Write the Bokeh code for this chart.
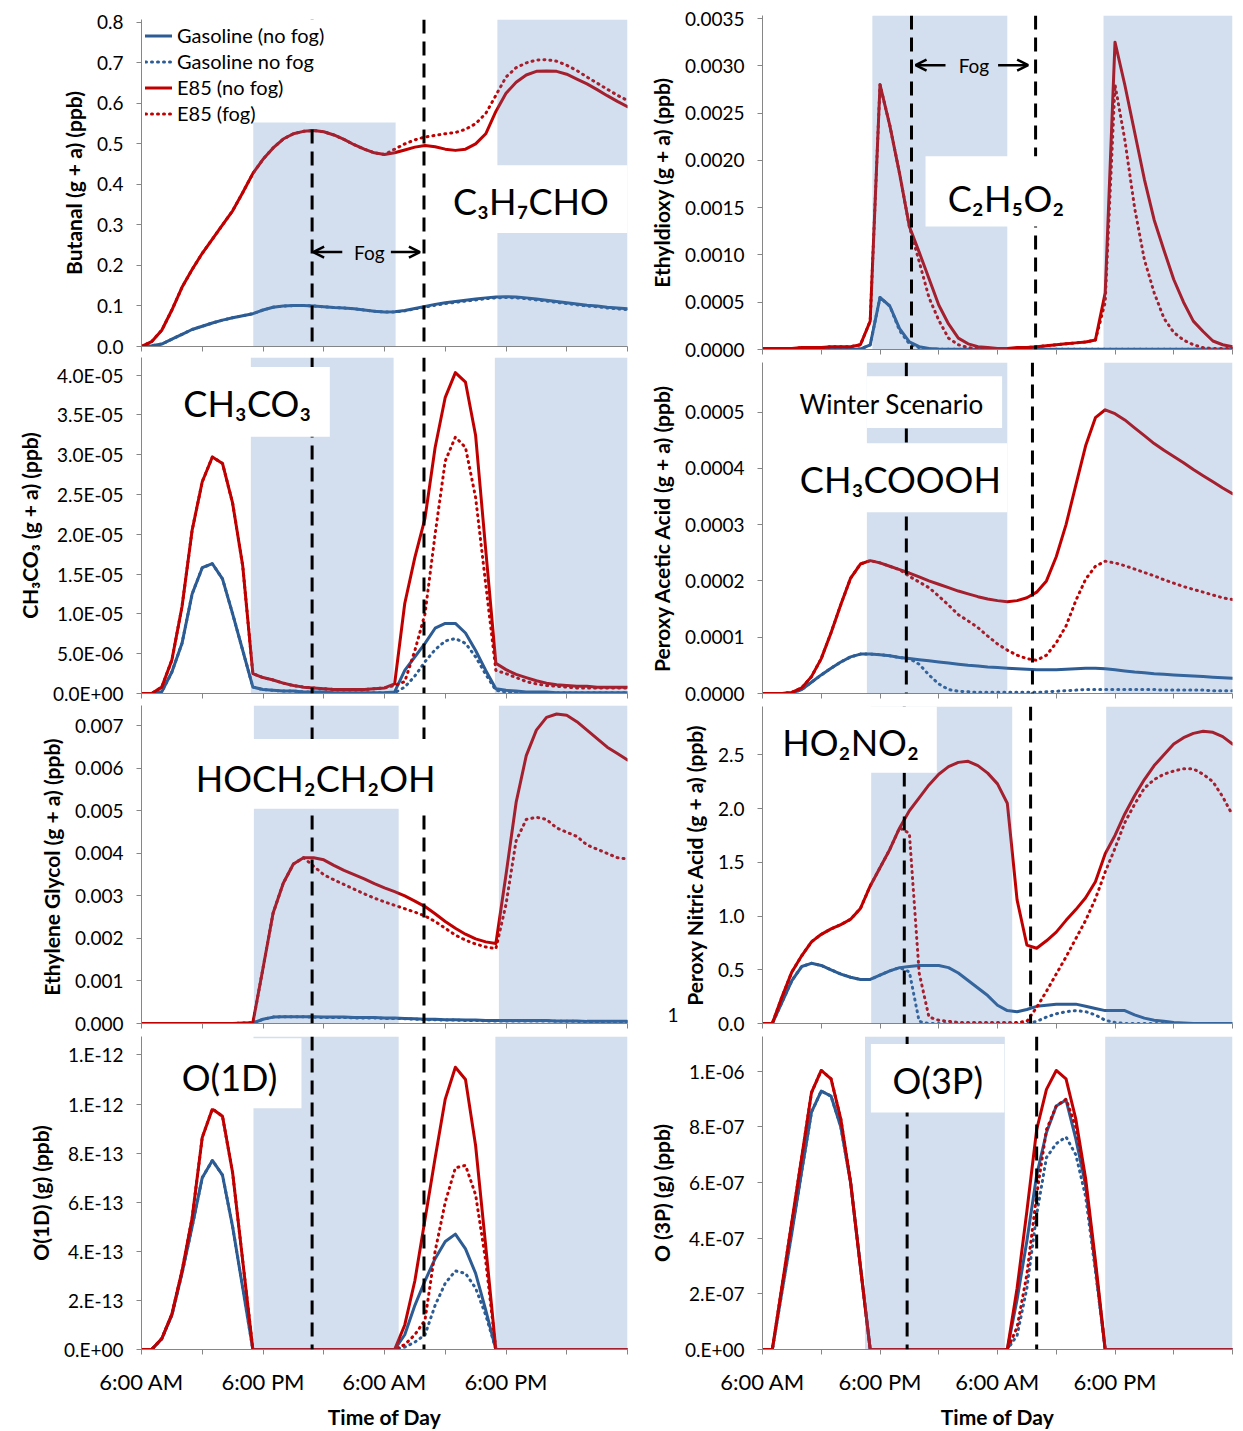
from bokeh.plotting import figure
from bokeh.layouts import row, column
from bokeh.models import (Range1d, FixedTicker, BoxAnnotation, Span, Label,
                          Arrow, OpenHead, Legend, LegendItem, LinearAxis)
from bokeh.embed import file_html
from bokeh.resources import INLINE

# ---------------- data (hours after 6:00 AM of day 1) ----------------
hours = list(range(49))

x_ticks = [0, 6, 12, 18, 24, 30, 36, 42, 48]
x_tick_labels = ["6:00 AM", "", "6:00 PM", "", "6:00 AM", "", "6:00 PM", "", ""]

series_names = ["Gasoline (no fog)", "Gasoline no fog", "E85 (no fog)", "E85 (fog)"]

# Butanal
butanal_gas = [0.0, 0.002, 0.006, 0.018, 0.03, 0.042, 0.05, 0.058, 0.065, 0.071,
               0.076, 0.081, 0.09, 0.097, 0.1, 0.101, 0.101, 0.1, 0.098, 0.096,
               0.095, 0.093, 0.09, 0.087, 0.085, 0.086, 0.089, 0.094, 0.099, 0.104,
               0.108, 0.111, 0.114, 0.117, 0.12, 0.122, 0.123, 0.122, 0.12, 0.117,
               0.114, 0.111, 0.108, 0.105, 0.102, 0.1, 0.097, 0.095, 0.093]
butanal_gas_fog = [0.0, 0.002, 0.006, 0.018, 0.03, 0.042, 0.05, 0.058, 0.065, 0.071,
                   0.076, 0.081, 0.09, 0.097, 0.1, 0.101, 0.101, 0.1, 0.098, 0.096,
                   0.095, 0.093, 0.09, 0.087, 0.085, 0.085, 0.088, 0.093, 0.097, 0.102,
                   0.106, 0.109, 0.112, 0.115, 0.118, 0.12, 0.121, 0.12, 0.118, 0.115,
                   0.112, 0.109, 0.106, 0.103, 0.1, 0.098, 0.095, 0.093, 0.091]
butanal_e85 = [0.0, 0.012, 0.04, 0.09, 0.146, 0.19, 0.23, 0.265, 0.3, 0.335,
               0.38, 0.427, 0.462, 0.49, 0.512, 0.525, 0.531, 0.533, 0.53, 0.522,
               0.511, 0.498, 0.487, 0.478, 0.474, 0.478, 0.485, 0.492, 0.496, 0.493,
               0.487, 0.484, 0.487, 0.5, 0.525, 0.58, 0.625, 0.652, 0.67, 0.679,
               0.68, 0.679, 0.672, 0.66, 0.648, 0.634, 0.619, 0.605, 0.592]
butanal_e85_fog = [0.0, 0.012, 0.04, 0.09, 0.146, 0.19, 0.23, 0.265, 0.3, 0.335,
                   0.38, 0.427, 0.462, 0.49, 0.512, 0.525, 0.531, 0.533, 0.53, 0.522,
                   0.511, 0.498, 0.487, 0.478, 0.474, 0.487, 0.5, 0.51, 0.517, 0.521,
                   0.525, 0.528, 0.536, 0.55, 0.575, 0.62, 0.665, 0.688, 0.7, 0.707,
                   0.708, 0.704, 0.694, 0.681, 0.665, 0.65, 0.635, 0.62, 0.607]
butanal_ticks = [0.0, 0.1, 0.2, 0.3, 0.4, 0.5, 0.6, 0.7, 0.8]
butanal_tick_labels = ["0.0", "0.1", "0.2", "0.3", "0.4", "0.5", "0.6", "0.7", "0.8"]

# CH3CO3
ch3co3_gas = [0.0, 0.0, 0.02e-5, 0.27e-5, 0.63e-5, 1.25e-5, 1.58e-5, 1.63e-5, 1.44e-5, 1.0e-5,
              0.54e-5, 0.08e-5, 0.05e-5, 0.04e-5, 0.03e-5, 0.03e-5, 0.02e-5, 0.02e-5, 0.02e-5, 0.01e-5,
              0.01e-5, 0.01e-5, 0.01e-5, 0.01e-5, 0.01e-5, 0.02e-5, 0.29e-5, 0.46e-5, 0.63e-5, 0.82e-5,
              0.88e-5, 0.88e-5, 0.76e-5, 0.54e-5, 0.29e-5, 0.06e-5, 0.04e-5, 0.03e-5, 0.02e-5, 0.02e-5,
              0.02e-5, 0.01e-5, 0.01e-5, 0.01e-5, 0.01e-5, 0.01e-5, 0.01e-5, 0.01e-5, 0.01e-5]
ch3co3_gas_fog = [0.0, 0.0, 0.02e-5, 0.27e-5, 0.63e-5, 1.25e-5, 1.58e-5, 1.63e-5, 1.44e-5, 1.0e-5,
                  0.54e-5, 0.08e-5, 0.05e-5, 0.04e-5, 0.03e-5, 0.03e-5, 0.02e-5, 0.02e-5, 0.02e-5, 0.01e-5,
                  0.01e-5, 0.01e-5, 0.01e-5, 0.01e-5, 0.01e-5, 0.01e-5, 0.08e-5, 0.22e-5, 0.4e-5, 0.55e-5,
                  0.66e-5, 0.69e-5, 0.63e-5, 0.46e-5, 0.24e-5, 0.04e-5, 0.02e-5, 0.01e-5, 0.01e-5, 0.01e-5,
                  0.01e-5, 0.01e-5, 0.01e-5, 0.01e-5, 0.01e-5, 0.01e-5, 0.01e-5, 0.01e-5, 0.01e-5]
ch3co3_e85 = [0.0, 0.0, 0.08e-5, 0.42e-5, 1.09e-5, 2.05e-5, 2.66e-5, 2.97e-5, 2.89e-5, 2.39e-5,
              1.6e-5, 0.25e-5, 0.2e-5, 0.17e-5, 0.13e-5, 0.1e-5, 0.08e-5, 0.07e-5, 0.06e-5, 0.05e-5,
              0.05e-5, 0.05e-5, 0.05e-5, 0.06e-5, 0.07e-5, 0.12e-5, 1.13e-5, 1.71e-5, 2.2e-5, 3.09e-5,
              3.72e-5, 4.03e-5, 3.91e-5, 3.24e-5, 1.8e-5, 0.38e-5, 0.3e-5, 0.24e-5, 0.2e-5, 0.16e-5,
              0.13e-5, 0.11e-5, 0.1e-5, 0.09e-5, 0.09e-5, 0.08e-5, 0.08e-5, 0.08e-5, 0.08e-5]
ch3co3_e85_fog = [0.0, 0.0, 0.08e-5, 0.42e-5, 1.09e-5, 2.05e-5, 2.66e-5, 2.97e-5, 2.89e-5, 2.39e-5,
                  1.6e-5, 0.25e-5, 0.2e-5, 0.17e-5, 0.13e-5, 0.1e-5, 0.08e-5, 0.07e-5, 0.06e-5, 0.05e-5,
                  0.05e-5, 0.05e-5, 0.05e-5, 0.06e-5, 0.07e-5, 0.1e-5, 0.15e-5, 0.54e-5, 1.0e-5, 2.0e-5,
                  2.92e-5, 3.22e-5, 3.09e-5, 2.46e-5, 1.37e-5, 0.29e-5, 0.25e-5, 0.2e-5, 0.15e-5, 0.12e-5,
                  0.1e-5, 0.09e-5, 0.08e-5, 0.07e-5, 0.07e-5, 0.07e-5, 0.07e-5, 0.07e-5, 0.07e-5]
ch3co3_ticks = [0.0, 5e-06, 1e-05, 1.5e-05, 2e-05, 2.5e-05, 3e-05, 3.5e-05, 4e-05]
ch3co3_tick_labels = ["0.0E+00", "5.0E-06", "1.0E-05", "1.5E-05", "2.0E-05",
                      "2.5E-05", "3.0E-05", "3.5E-05", "4.0E-05"]

# Ethylene glycol
glycol_gas = [0, 0, 0, 0, 0, 0, 0, 0, 0, 0,
              0, 0.00001, 0.0001, 0.00015, 0.00016, 0.00016, 0.00016, 0.00016, 0.00015, 0.00015,
              0.00015, 0.00014, 0.00014, 0.00014, 0.00013, 0.00013, 0.00012, 0.00011, 0.0001, 0.0001,
              0.00009, 0.00009, 0.00008, 0.00008, 0.00007, 0.00007, 0.00007, 0.00007, 0.00007, 0.00007,
              0.00007, 0.00006, 0.00006, 0.00006, 0.00005, 0.00005, 0.00005, 0.00005, 0.00005]
glycol_gas_fog = [0, 0, 0, 0, 0, 0, 0, 0, 0, 0,
                  0, 0.00001, 0.0001, 0.00015, 0.00016, 0.00016, 0.00016, 0.00015, 0.00014, 0.00014,
                  0.00014, 0.00013, 0.00013, 0.00013, 0.00012, 0.00012, 0.00011, 0.0001, 0.00009, 0.00009,
                  0.00008, 0.00008, 0.00007, 0.00007, 0.00006, 0.00006, 0.00006, 0.00006, 0.00006, 0.00006,
                  0.00006, 0.00005, 0.00005, 0.00005, 0.00004, 0.00004, 0.00004, 0.00004, 0.00004]
glycol_e85 = [0, 0, 0, 0, 0, 0, 0, 0, 0, 0,
              0.00001, 0.00002, 0.0013, 0.0026, 0.0033, 0.00375, 0.0039, 0.0039, 0.00385, 0.00372,
              0.0036, 0.0035, 0.0034, 0.00329, 0.00319, 0.0031, 0.003, 0.00288, 0.00275, 0.00258,
              0.0024, 0.00224, 0.0021, 0.00199, 0.00192, 0.00188, 0.0035, 0.0052, 0.0063, 0.0069,
              0.0072, 0.00728, 0.00725, 0.0071, 0.0069, 0.0067, 0.0065, 0.00635, 0.0062]
glycol_e85_fog = [0, 0, 0, 0, 0, 0, 0, 0, 0, 0,
                  0.00001, 0.00002, 0.0013, 0.0026, 0.0033, 0.00375, 0.0039, 0.0037, 0.0035, 0.00338,
                  0.00327, 0.00316, 0.00305, 0.00295, 0.00286, 0.00278, 0.0027, 0.00262, 0.00253, 0.0024,
                  0.00224, 0.00208, 0.00196, 0.00187, 0.0018, 0.00176, 0.0028, 0.0043, 0.0048, 0.00485,
                  0.0048, 0.0046, 0.0045, 0.0044, 0.0042, 0.0041, 0.004, 0.0039, 0.00387]
glycol_ticks = [0.0, 0.001, 0.002, 0.003, 0.004, 0.005, 0.006, 0.007]
glycol_tick_labels = ["0.000", "0.001", "0.002", "0.003", "0.004", "0.005", "0.006", "0.007"]

# O(1D)
o1d_gas = [0, 0, 0.044e-12, 0.14e-12, 0.31e-12, 0.5e-12, 0.7e-12, 0.77e-12, 0.71e-12, 0.5e-12,
           0.25e-12, 0, 0, 0, 0, 0, 0, 0, 0, 0,
           0, 0, 0, 0, 0, 0, 0.06e-12, 0.18e-12, 0.28e-12, 0.37e-12,
           0.44e-12, 0.47e-12, 0.41e-12, 0.31e-12, 0.16e-12, 0, 0, 0, 0, 0,
           0, 0, 0, 0, 0, 0, 0, 0, 0]
o1d_gas_fog = [0, 0, 0.044e-12, 0.14e-12, 0.31e-12, 0.5e-12, 0.7e-12, 0.77e-12, 0.71e-12, 0.5e-12,
               0.25e-12, 0, 0, 0, 0, 0, 0, 0, 0, 0,
               0, 0, 0, 0, 0, 0, 0.01e-12, 0.03e-12, 0.06e-12, 0.18e-12,
               0.27e-12, 0.32e-12, 0.31e-12, 0.25e-12, 0.14e-12, 0, 0, 0, 0, 0,
               0, 0, 0, 0, 0, 0, 0, 0, 0]
o1d_e85 = [0, 0, 0.044e-12, 0.144e-12, 0.32e-12, 0.536e-12, 0.864e-12, 0.98e-12, 0.95e-12, 0.72e-12,
           0.36e-12, 0, 0, 0, 0, 0, 0, 0, 0, 0,
           0, 0, 0, 0, 0, 0, 0.1e-12, 0.28e-12, 0.53e-12, 0.78e-12,
           1.02e-12, 1.15e-12, 1.1e-12, 0.83e-12, 0.42e-12, 0, 0, 0, 0, 0,
           0, 0, 0, 0, 0, 0, 0, 0, 0]
o1d_e85_fog = [0, 0, 0.044e-12, 0.144e-12, 0.32e-12, 0.536e-12, 0.864e-12, 0.98e-12, 0.95e-12, 0.72e-12,
               0.36e-12, 0, 0, 0, 0, 0, 0, 0, 0, 0,
               0, 0, 0, 0, 0, 0, 0.02e-12, 0.06e-12, 0.12e-12, 0.4e-12,
               0.6e-12, 0.74e-12, 0.75e-12, 0.63e-12, 0.36e-12, 0, 0, 0, 0, 0,
               0, 0, 0, 0, 0, 0, 0, 0, 0]
o1d_ticks = [0.0, 2e-13, 4e-13, 6e-13, 8e-13, 1e-12, 1.2e-12]
o1d_tick_labels = ["0.E+00", "2.E-13", "4.E-13", "6.E-13", "8.E-13", "1.E-12", "1.E-12"]

# Ethyldioxy C2H5O2
ethyl_gas = [0, 0, 0, 0, 0, 0, 0, 0, 0, 0,
             0.000005, 0.00005, 0.00055, 0.00046, 0.00022, 0.00008, 0.00003, 0.00001, 0.000005, 0.000003,
             0.000003, 0.000003, 0.000003, 0.000003, 0.000003, 0.000003, 0.000003, 0.000003, 0.000003, 0.000003,
             0.000003, 0.000003, 0.000003, 0.000003, 0.000003, 0.000003, 0.000003, 0.000003, 0.000003, 0.000003,
             0.000003, 0.000003, 0.000003, 0.000003, 0.000003, 0.000003, 0.000003, 0.000003, 0.000003]
ethyl_gas_fog = [0, 0, 0, 0, 0, 0, 0, 0, 0, 0,
                 0.000005, 0.00005, 0.00055, 0.00046, 0.0002, 0.00006, 0.00002, 0.000005, 0.000003, 0.000003,
                 0.000003, 0.000003, 0.000003, 0.000003, 0.000003, 0.000003, 0.000003, 0.000003, 0.000003, 0.000003,
                 0.000003, 0.000003, 0.000003, 0.000003, 0.000003, 0.000003, 0.000003, 0.000003, 0.000003, 0.000003,
                 0.000003, 0.000003, 0.000003, 0.000003, 0.000003, 0.000003, 0.000003, 0.000003, 0.000003]
ethyl_e85 = [0.00001, 0.00001, 0.00001, 0.00001, 0.00002, 0.00002, 0.00002, 0.00003, 0.00003, 0.00003,
             0.00005, 0.0003, 0.0028, 0.00237, 0.00186, 0.0013, 0.00103, 0.00075, 0.00047, 0.00027,
             0.00012, 0.00006, 0.00003, 0.00002, 0.00001, 0.00001, 0.00002, 0.00002, 0.00003, 0.00004,
             0.00005, 0.00006, 0.00007, 0.00008, 0.0001, 0.0006, 0.00325, 0.0028, 0.0023, 0.0018,
             0.00137, 0.00105, 0.00074, 0.0005, 0.0003, 0.00019, 0.00009, 0.00005, 0.00003]
ethyl_e85_fog = [0.00001, 0.00001, 0.00001, 0.00001, 0.00002, 0.00002, 0.00002, 0.00003, 0.00003, 0.00003,
                 0.00005, 0.0003, 0.0028, 0.00237, 0.00186, 0.0013, 0.00093, 0.00055, 0.00031, 0.00012,
                 0.00005, 0.00002, 0.00001, 0.00001, 0.00001, 0.00001, 0.00001, 0.00002, 0.00003, 0.00004,
                 0.00005, 0.00006, 0.00007, 0.00008, 0.0001, 0.0005, 0.0028, 0.00222, 0.0015, 0.00095,
                 0.0006, 0.00033, 0.00018, 0.0001, 0.00005, 0.00002, 0.00001, 0.00001, 0.00001]
ethyl_ticks = [0.0, 0.0005, 0.001, 0.0015, 0.002, 0.0025, 0.003, 0.0035]
ethyl_tick_labels = ["0.0000", "0.0005", "0.0010", "0.0015", "0.0020", "0.0025", "0.0030", "0.0035"]

# Peroxy acetic acid CH3COOOH
paa_gas = [0, 0, 0, 0.000001, 0.000007, 0.00002, 0.000033, 0.000045, 0.000056, 0.000065,
           0.00007, 0.00007, 0.000069, 0.000067, 0.000064, 0.000062, 0.00006, 0.000058, 0.000056, 0.000054,
           0.000052, 0.00005, 0.000049, 0.000047, 0.000046, 0.000045, 0.000044, 0.000043, 0.000042, 0.000042,
           0.000042, 0.000043, 0.000044, 0.000045, 0.000045, 0.000044, 0.000042, 0.00004, 0.000038, 0.000037,
           0.000035, 0.000034, 0.000033, 0.000032, 0.000031, 0.00003, 0.000029, 0.000028, 0.000027]
paa_gas_fog = [0, 0, 0, 0.000001, 0.000007, 0.00002, 0.000033, 0.000045, 0.000056, 0.000065,
               0.00007, 0.00007, 0.000069, 0.000067, 0.000064, 0.000062, 0.000052, 0.000033, 0.000017, 0.000007,
               0.000004, 0.000003, 0.000002, 0.000002, 0.000002, 0.000002, 0.000002, 0.000002, 0.000002, 0.000003,
               0.000004, 0.000005, 0.000006, 0.000007, 0.000007, 0.000007, 0.000007, 0.000007, 0.000007, 0.000007,
               0.000007, 0.000006, 0.000006, 0.000006, 0.000006, 0.000006, 0.000005, 0.000005, 0.000005]
paa_e85 = [0, 0, 0, 0.000002, 0.00001, 0.00003, 0.000062, 0.000108, 0.000158, 0.000205,
           0.00023, 0.000236, 0.000232, 0.000226, 0.00022, 0.000214, 0.000207, 0.0002, 0.000194, 0.000188,
           0.000182, 0.000177, 0.000172, 0.000168, 0.000165, 0.000163, 0.000165, 0.00017, 0.00018, 0.0002,
           0.000243, 0.0003, 0.00037, 0.00044, 0.00049, 0.000504, 0.000497, 0.000486, 0.000472, 0.000458,
           0.000444, 0.000432, 0.000421, 0.00041, 0.000398, 0.000387, 0.000376, 0.000365, 0.000355]
paa_e85_fog = [0, 0, 0, 0.000002, 0.00001, 0.00003, 0.000062, 0.000108, 0.000158, 0.000205,
               0.00023, 0.000236, 0.000232, 0.000226, 0.00022, 0.000208, 0.000198, 0.000188, 0.000173, 0.000157,
               0.00014, 0.000129, 0.000117, 0.000102, 0.000088, 0.000077, 0.000068, 0.000062, 0.000059, 0.000068,
               0.00009, 0.00012, 0.000165, 0.000203, 0.000226, 0.000235, 0.000232, 0.000227, 0.000221, 0.000215,
               0.000209, 0.000202, 0.000196, 0.00019, 0.000185, 0.00018, 0.000175, 0.00017, 0.000167]
paa_ticks = [0.0, 0.0001, 0.0002, 0.0003, 0.0004, 0.0005]
paa_tick_labels = ["0.0000", "0.0001", "0.0002", "0.0003", "0.0004", "0.0005"]

# Peroxy nitric acid HO2NO2
pna_gas = [0, 0, 0.2, 0.4, 0.53, 0.56, 0.54, 0.5, 0.46, 0.43,
           0.41, 0.41, 0.45, 0.49, 0.52, 0.53, 0.54, 0.54, 0.54, 0.52,
           0.47, 0.4, 0.33, 0.26, 0.17, 0.12, 0.11, 0.13, 0.16, 0.17,
           0.18, 0.18, 0.18, 0.16, 0.14, 0.12, 0.12, 0.12, 0.08, 0.05,
           0.03, 0.02, 0.01, 0.005, 0, 0, 0, 0, 0]
pna_gas_fog = [0, 0, 0.2, 0.4, 0.53, 0.56, 0.54, 0.5, 0.46, 0.43,
               0.41, 0.41, 0.45, 0.49, 0.52, 0.48, 0.02, 0, 0, 0,
               0, 0, 0, 0, 0, 0, 0, 0, 0.02, 0.06,
               0.09, 0.11, 0.12, 0.11, 0.08, 0.03, 0.01, 0, 0, 0,
               0, 0, 0, 0, 0, 0, 0, 0, 0]
pna_e85 = [0, 0, 0.25, 0.48, 0.63, 0.76, 0.83, 0.88, 0.92, 0.97,
           1.07, 1.28, 1.45, 1.62, 1.82, 1.98, 2.1, 2.22, 2.32, 2.39,
           2.43, 2.44, 2.4, 2.33, 2.23, 2.05, 1.15, 0.73, 0.7, 0.77,
           0.85, 0.96, 1.06, 1.17, 1.32, 1.58, 1.75, 1.95, 2.12, 2.27,
           2.4, 2.5, 2.6, 2.66, 2.7, 2.72, 2.71, 2.67, 2.6]
pna_e85_fog = [0, 0, 0.25, 0.48, 0.63, 0.76, 0.83, 0.88, 0.92, 0.97,
               1.07, 1.28, 1.45, 1.62, 1.82, 1.77, 0.47, 0.06, 0.03, 0.02,
               0.01, 0.01, 0.01, 0.01, 0.01, 0.01, 0.01, 0.02, 0.15, 0.3,
               0.46, 0.62, 0.79, 0.96, 1.16, 1.41, 1.63, 1.87, 2.04, 2.19,
               2.27, 2.32, 2.35, 2.37, 2.37, 2.32, 2.25, 2.11, 1.94]
pna_ticks = [0.0, 0.5, 1.0, 1.5, 2.0, 2.5]
pna_tick_labels = ["0.0", "0.5", "1.0", "1.5", "2.0", "2.5"]

# O(3P)
o3p_gas = [0, 0, 0.21e-6, 0.42e-6, 0.64e-6, 0.853e-6, 0.929e-6, 0.911e-6, 0.8e-6, 0.6e-6,
           0.3e-6, 0, 0, 0, 0, 0, 0, 0, 0, 0,
           0, 0, 0, 0, 0, 0, 0.18e-6, 0.39e-6, 0.627e-6, 0.78e-6,
           0.875e-6, 0.897e-6, 0.757e-6, 0.59e-6, 0.3e-6, 0, 0, 0, 0, 0,
           0, 0, 0, 0, 0, 0, 0, 0, 0]
o3p_gas_fog = [0, 0, 0.21e-6, 0.42e-6, 0.64e-6, 0.853e-6, 0.929e-6, 0.911e-6, 0.8e-6, 0.6e-6,
               0.3e-6, 0, 0, 0, 0, 0, 0, 0, 0, 0,
               0, 0, 0, 0, 0, 0, 0.05e-6, 0.22e-6, 0.485e-6, 0.69e-6,
               0.74e-6, 0.764e-6, 0.7e-6, 0.55e-6, 0.28e-6, 0, 0, 0, 0, 0,
               0, 0, 0, 0, 0, 0, 0, 0, 0]
o3p_e85 = [0, 0, 0.23e-6, 0.46e-6, 0.69e-6, 0.923e-6, 1.003e-6, 0.973e-6, 0.828e-6, 0.6e-6,
           0.296e-6, 0, 0, 0, 0, 0, 0, 0, 0, 0,
           0, 0, 0, 0, 0, 0, 0.22e-6, 0.497e-6, 0.79e-6, 0.935e-6,
           1.003e-6, 0.973e-6, 0.828e-6, 0.615e-6, 0.32e-6, 0, 0, 0, 0, 0,
           0, 0, 0, 0, 0, 0, 0, 0, 0]
o3p_e85_fog = [0, 0, 0.23e-6, 0.46e-6, 0.69e-6, 0.923e-6, 1.003e-6, 0.973e-6, 0.828e-6, 0.6e-6,
               0.296e-6, 0, 0, 0, 0, 0, 0, 0, 0, 0,
               0, 0, 0, 0, 0, 0, 0.08e-6, 0.27e-6, 0.556e-6, 0.79e-6,
               0.875e-6, 0.9e-6, 0.8e-6, 0.6e-6, 0.3e-6, 0, 0, 0, 0, 0,
               0, 0, 0, 0, 0, 0, 0, 0, 0]
o3p_ticks = [0.0, 2e-07, 4e-07, 6e-07, 8e-07, 1e-06]
o3p_tick_labels = ["0.E+00", "2.E-07", "4.E-07", "6.E-07", "8.E-07", "1.E-06"]

# ---------------- styling ----------------
FONT = "Lato"
BLUE = "#2C5C93"
RED = "#C00000"
SHADE = "#4F81BD"
AXIS_GREY = "#868686"
LINE_STYLES = [(BLUE, "solid"), (BLUE, "1 5"), (RED, "solid"), (RED, "1 5")]

panels = [
    dict(data=[butanal_gas, butanal_gas_fog, butanal_e85, butanal_e85_fog],
         ticks=butanal_ticks, tlabels=butanal_tick_labels, ymax=0.807,
         ylabel="Butanal (g + a) (ppb)", w=640, h=357, borders=(141, 13, 19, 11),
         shades=[(11.04, 25.1, None, 0.553), (35.15, None, None, None)],
         whites=[(30.0, None, 0.28, 0.447), (16.2, 17.6, 0.553, None)],
         texts=[("C\u2083H\u2087CHO", 38.46, 0.36, "36px")],
         spans=[16.85, 27.9], fog=(0.233, 19.83, 16.95, 22.5, 24.63, 27.5),
         legend=True, bottom=False, stray=None),
    dict(data=[ch3co3_gas, ch3co3_gas_fog, ch3co3_e85, ch3co3_e85_fog],
         ticks=ch3co3_ticks, tlabels=ch3co3_tick_labels, ymax=4.22e-5,
         ylabel="CH\u2083CO\u2083 (g + a) (ppb)", w=640, h=348, borders=(141, 13, 0, 12),
         shades=[(10.8, 24.9, None, None), (34.9, None, None, None)],
         whites=[(3.5, 18.6, 3.225e-5, 4.1e-5)],
         texts=[("CH\u2083CO\u2083", 10.45, 3.65e-5, "36px")],
         spans=[16.85, 27.9], fog=None, legend=False, bottom=False, stray=None),
    dict(data=[glycol_gas, glycol_gas_fog, glycol_e85, glycol_e85_fog],
         ticks=glycol_ticks, tlabels=glycol_tick_labels, ymax=0.00748,
         ylabel="Ethylene Glycol  (g + a) (ppb)", w=640, h=331, borders=(141, 13, 0, 13),
         shades=[(11.1, 25.4, None, None), (35.3, None, None, None)],
         whites=[(4.5, 29.6, 0.00505, 0.00669)],
         texts=[("HOCH\u2082CH\u2082OH", 17.2, 0.00578, "36px")],
         spans=[16.85, 27.9], fog=None, legend=False, bottom=False, stray=None),
    dict(data=[o1d_gas, o1d_gas_fog, o1d_e85, o1d_e85_fog],
         ticks=o1d_ticks, tlabels=o1d_tick_labels, ymax=1.275e-12,
         ylabel="O(1D) (g) (ppb)", w=640, h=395, borders=(141, 13, 0, 78),
         shades=[(11.06, 25.4, None, None), (34.95, None, None, None)],
         whites=[(2.9, 15.8, 0.983e-12, 1.268e-12)],
         texts=[("O(1D)", 8.7, 1.109e-12, "36px")],
         spans=[16.85, 27.9], fog=None, legend=False, bottom=True, stray=None),
    dict(data=[ethyl_gas, ethyl_gas_fog, ethyl_e85, ethyl_e85_fog],
         ticks=ethyl_ticks, tlabels=ethyl_tick_labels, ymax=0.003532,
         ylabel="Ethyldioxy (g + a) (ppb)", w=603, h=362, borders=(122, 11, 15, 13),
         shades=[(11.22, 25.0, None, None), (34.83, None, None, None)],
         whites=[(16.65, 31.46, 0.0013, 0.002044)],
         texts=[("C\u2082H\u2085O\u2082", 24.87, 0.001605, "36px")],
         spans=[15.22, 27.89], fog=(0.003006, 18.69, 15.63, 21.59, 24.06, 27.13),
         legend=False, bottom=False, stray=None),
    dict(data=[paa_gas, paa_gas_fog, paa_e85, paa_e85_fog],
         ticks=paa_ticks, tlabels=paa_tick_labels, ymax=0.000588,
         ylabel="Peroxy Acetic Acid (g + a) (ppb)", w=603, h=344, borders=(122, 1, 0, 13),
         shades=[(10.66, 25.0, None, None), (34.9, None, None, None)],
         whites=[(10.66, 24.47, 0.0004718, 0.0005636), (3.4, 25.0, 0.000322, 0.0004446)],
         texts=[("Winter Scenario", 13.18, 0.000515, "26px"),
                ("CH\u2083COOOH", 14.08, 0.0003806, "36px")],
         spans=[14.69, 27.57], fog=None, legend=False, bottom=False, stray=None),
    dict(data=[pna_gas, pna_gas_fog, pna_e85, pna_e85_fog],
         ticks=pna_ticks, tlabels=pna_tick_labels, ymax=2.95,
         ylabel="Peroxy Nitric Acid (g + a) (ppb)", w=603, h=330, borders=(122, 0, 0, 13),
         shades=[(11.1, 25.5, None, None), (35.1, None, None, None)],
         whites=[(1.0, 17.8, 2.333, None)],
         texts=[("HO\u2082NO\u2082", 9.0, 2.622, "36px")],
         spans=[14.48, 27.38], fog=None, legend=False, bottom=False, stray=(0.077, "1")),
    dict(data=[o3p_gas, o3p_gas_fog, o3p_e85, o3p_e85_fog],
         ticks=o3p_ticks, tlabels=o3p_tick_labels, ymax=1.125e-6,
         ylabel="O (3P) (g) (ppb)", w=603, h=395, borders=(120, 8, 0, 78),
         shades=[(10.47, 24.75, None, None), (35.0, None, None, None)],
         whites=[(11.07, 24.7, 0.852e-6, 1.098e-6)],
         texts=[("O(3P)", 17.9, 0.97e-6, "36px")],
         spans=[14.77, 28.0], fog=None, legend=False, bottom=True, stray=None),
]


def box_kwargs(left, right, bottom, top):
    kw = {}
    if left is not None:
        kw["left"] = left
    if right is not None:
        kw["right"] = right
    if bottom is not None:
        kw["bottom"] = bottom
    if top is not None:
        kw["top"] = top
    return kw


def make_panel(cfg):
    bl, br, bt, bb = cfg["borders"]
    p = figure(width=cfg["w"], height=cfg["h"], output_backend="svg", toolbar_location=None,
               x_range=Range1d(0, 48), y_range=Range1d(0, cfg["ymax"]),
               min_border_left=bl, min_border_right=br, min_border_top=bt, min_border_bottom=bb)
    p.outline_line_color = None
    p.grid.visible = False
    p.background_fill_color = "white"
    p.border_fill_color = "white"

    renderers = []
    for vals, (color, dash), name in zip(cfg["data"], LINE_STYLES, series_names):
        r = p.line(hours, vals, line_color=color, line_width=3, line_dash=dash,
                   line_cap="round", line_join="round")
        renderers.append(r)

    yax = p.yaxis[0]
    yax.ticker = FixedTicker(ticks=cfg["ticks"])
    yax.major_label_overrides = {t: l for t, l in zip(cfg["ticks"], cfg["tlabels"])}
    yax.axis_label = cfg["ylabel"]
    yax.axis_label_text_font = FONT
    yax.axis_label_text_font_style = "bold"
    yax.axis_label_text_font_size = "21px"
    yax.axis_label_text_color = "black"
    yax.axis_label_standoff = 8
    yax.major_label_text_font = FONT
    yax.major_label_text_font_size = "19px"
    yax.major_label_text_color = "black"
    yax.major_label_standoff = 13
    yax.major_tick_out = 5
    yax.major_tick_in = 0
    yax.minor_tick_line_color = None
    yax.axis_line_color = AXIS_GREY
    yax.major_tick_line_color = AXIS_GREY

    if cfg["stray"] is not None:
        sy, stext = cfg["stray"]
        extra = LinearAxis(ticker=FixedTicker(ticks=[sy]), major_label_overrides={sy: stext},
                           axis_line_color=None, major_tick_line_color=None,
                           minor_tick_line_color=None, major_tick_out=0, major_tick_in=0,
                           major_label_standoff=0, major_label_text_font=FONT,
                           major_label_text_font_size="19px", major_label_text_color="black")
        p.add_layout(extra, "left")

    xax = p.xaxis[0]
    xax.ticker = FixedTicker(ticks=x_ticks)
    xax.major_tick_out = 5
    xax.major_tick_in = 0
    xax.minor_tick_line_color = None
    xax.axis_line_color = AXIS_GREY
    xax.major_tick_line_color = AXIS_GREY
    if cfg["bottom"]:
        xax.major_label_overrides = {t: l for t, l in zip(x_ticks, x_tick_labels)}
        xax.major_label_text_font = FONT
        xax.major_label_text_font_size = "22px"
        xax.major_label_text_color = "black"
        xax.major_label_standoff = 13
        xax.axis_label = "Time of Day"
        xax.axis_label_text_font = FONT
        xax.axis_label_text_font_style = "bold"
        xax.axis_label_text_font_size = "21px"
        xax.axis_label_text_color = "black"
        xax.axis_label_standoff = 6
    else:
        xax.major_label_overrides = {t: "" for t in x_ticks}
        xax.major_label_text_font_size = "1px"
        xax.major_label_standoff = 0

    # translucent night shading drawn over the lines
    for (l, r, b, t) in cfg["shades"]:
        p.add_layout(BoxAnnotation(fill_color=SHADE, fill_alpha=0.25, line_color=None,
                                   **box_kwargs(l, r, b, t)))
    # fog period markers
    for loc in cfg["spans"]:
        p.add_layout(Span(location=loc, dimension="height", line_color="black",
                          line_width=3, line_dash="14 8"))
    # white text boxes
    for (l, r, b, t) in cfg["whites"]:
        p.add_layout(BoxAnnotation(fill_color="white", fill_alpha=1.0, line_color=None,
                                   **box_kwargs(l, r, b, t)))
    for (txt, x, y, size) in cfg["texts"]:
        p.add_layout(Label(x=x, y=y, text=txt, text_font=FONT, text_font_size=size,
                           text_align="center", text_baseline="middle", text_color="black"))
    if cfg["fog"] is not None:
        fy, l0, l1, ft, r0, r1 = cfg["fog"]
        p.add_layout(Arrow(end=OpenHead(size=11, line_width=2.5, line_color="black"),
                           x_start=l0, y_start=fy, x_end=l1, y_end=fy,
                           line_width=2.5, line_color="black"))
        p.add_layout(Arrow(end=OpenHead(size=11, line_width=2.5, line_color="black"),
                           x_start=r0, y_start=fy, x_end=r1, y_end=fy,
                           line_width=2.5, line_color="black"))
        p.add_layout(Label(x=ft, y=fy, text="Fog", text_font=FONT, text_font_size="19px",
                           text_align="center", text_baseline="middle", text_color="black"))
    if cfg["legend"]:
        legend = Legend(items=[LegendItem(label=n, renderers=[r])
                               for n, r in zip(series_names, renderers)],
                        location="top_left", margin=4, padding=5, spacing=2,
                        label_height=23, glyph_height=23, glyph_width=27, label_standoff=5,
                        label_text_font=FONT, label_text_font_size="20px",
                        label_text_color="black", border_line_color=None,
                        background_fill_alpha=0.0)
        p.add_layout(legend)
    return p


figs = [make_panel(c) for c in panels]
layout = row(column(*figs[:4], spacing=0), column(*figs[4:], spacing=0), spacing=0)

open("out.html", "w").write(file_html(layout, INLINE))
